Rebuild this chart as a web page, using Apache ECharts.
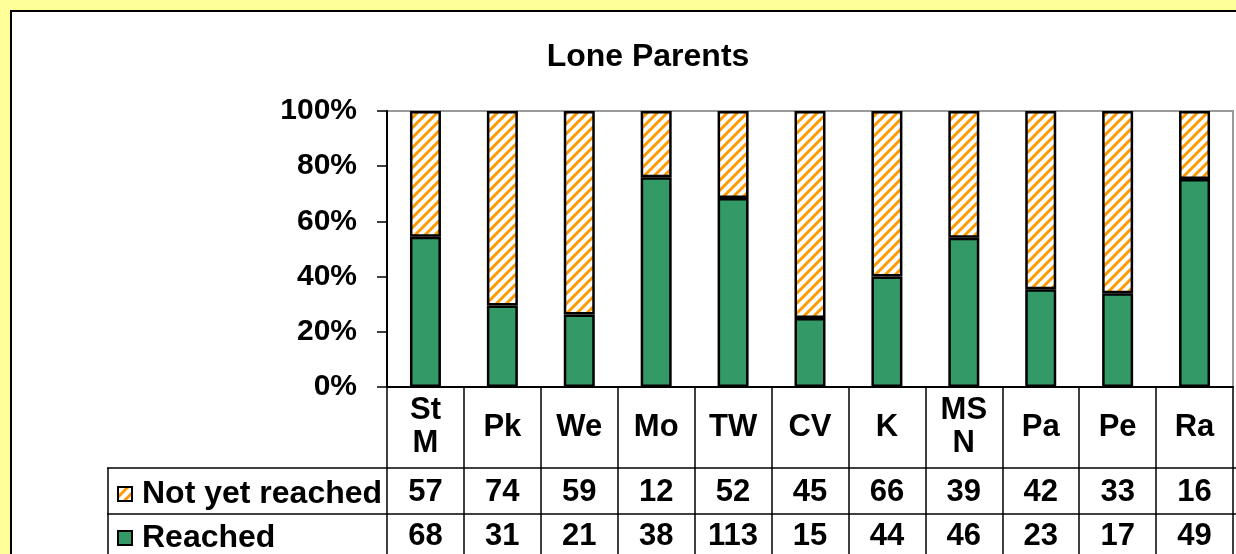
<!DOCTYPE html>
<html>
<head>
<meta charset="utf-8">
<script src="https://cdn.jsdelivr.net/npm/echarts@6/dist/echarts.min.js"></script>
<style>
  html, body { margin: 0; padding: 0; background: #FFFF99; }
  #chart { width: 1236px; height: 554px; }
</style>
</head>
<body>
<div id="chart"></div>
<script>
// data
const categories = ['St M', 'Pk', 'We', 'Mo', 'TW', 'CV', 'K', 'MSN', 'Pa', 'Pe', 'Ra']
const headerLabels = ['St\nM', 'Pk', 'We', 'Mo', 'TW', 'CV', 'K', 'MS\nN', 'Pa', 'Pe', 'Ra']
const notReached = [57, 74, 59, 12, 52, 45, 66, 39, 42, 33, 16]
const reached = [68, 31, 21, 38, 113, 15, 44, 46, 23, 17, 49]
const yTicks = [0, 20, 40, 60, 80, 100]

const FONT = "'Liberation Sans', Arial, sans-serif"
const GREEN = '#339966'
const ORANGE = '#FF9900'

// hatch pattern for "Not yet reached"
function makeHatch() {
  const s = 10
  const c = document.createElement('canvas')
  c.width = s
  c.height = s
  const ctx = c.getContext('2d')
  ctx.fillStyle = '#fff'
  ctx.fillRect(0, 0, s, s)
  ctx.strokeStyle = ORANGE
  ctx.lineWidth = 3
  ctx.beginPath()
  ctx.moveTo(-2, s + 2); ctx.lineTo(s + 2, -2)
  ctx.moveTo(-2, 2); ctx.lineTo(2, -2)
  ctx.moveTo(s - 2, s + 2); ctx.lineTo(s + 2, s - 2)
  ctx.stroke()
  return c
}
const hatch = { image: makeHatch(), repeat: 'repeat' }

const totals = reached.map((r, i) => r + notReached[i])
const reachedPct = reached.map((r, i) => r / totals[i] * 100)
const notReachedPct = notReached.map((n, i) => n / totals[i] * 100)

const chart = echarts.init(document.getElementById('chart'))

const tableFont = { fontFamily: FONT, fontWeight: 'bold', fontSize: 31, color: '#000' }
const axisFont = { fontFamily: FONT, fontWeight: 'bold', fontSize: 30, color: '#000' }

const hiddenAxis = (margin, values) => ({
  type: 'category',
  position: 'bottom',
  data: categories,
  axisLine: { show: false },
  axisTick: { show: false },
  splitLine: { show: false },
  axisLabel: Object.assign({
    margin: margin,
    verticalAlign: 'middle',
    interval: 0,
    formatter: (v, i) => String(values[i])
  }, tableFont)
})

const legendRow = (name, top) => ({
  orient: 'vertical',
  left: 112,
  top: top,
  icon: 'rect',
  itemWidth: 14,
  itemHeight: 14,
  data: [name],
  textStyle: Object.assign({ lineHeight: 30, padding: [0, 0, 0, 5] }, tableFont, { fontSize: 32 })
})

const option = {
  backgroundColor: '#FFFF99',
  animation: false,
  title: {
    text: 'Lone Parents',
    left: 643,
    top: 36,
    textAlign: 'center',
    textStyle: { fontFamily: FONT, fontWeight: 'bold', fontSize: 32, color: '#000' }
  },
  legend: [
    legendRow('Not yet reached', 473),
    legendRow('Reached', 517)
  ],
  grid: {
    left: 387,
    right: 3,
    top: 111,
    bottom: 167,
    show: true,
    backgroundColor: '#fff',
    borderColor: '#999',
    borderWidth: 2
  },
  xAxis: [
    {
      type: 'category',
      position: 'bottom',
      data: categories,
      axisLine: { lineStyle: { color: '#000', width: 2 } },
      axisTick: { show: true, length: 170, interval: 0, lineStyle: { color: '#000', width: 1.5 } },
      axisLabel: Object.assign({
        margin: 40,
        verticalAlign: 'middle',
        lineHeight: 33,
        interval: 0,
        formatter: (v, i) => headerLabels[i]
      }, tableFont)
    },
    hiddenAxis(105, notReached),
    hiddenAxis(149, reached)
  ],
  yAxis: {
    type: 'value',
    min: yTicks[0],
    max: yTicks[yTicks.length - 1],
    interval: 20,
    axisLine: { show: true, lineStyle: { color: '#000', width: 2 } },
    axisTick: { show: true, length: 10, lineStyle: { color: '#000', width: 1.5 } },
    splitLine: { show: false },
    axisLabel: Object.assign({ margin: 30, formatter: '{value}%' }, axisFont)
  },
  graphic: [
    {
      type: 'rect',
      z: -10,
      shape: { x: 11, y: 11, width: 1400, height: 700 },
      style: { fill: '#fff', stroke: '#000', lineWidth: 2 }
    },
    { type: 'line', z: 10, shape: { x1: 107, y1: 468, x2: 1236, y2: 468 }, style: { stroke: '#000', lineWidth: 1.5 } },
    { type: 'line', z: 10, shape: { x1: 107, y1: 514, x2: 1236, y2: 514 }, style: { stroke: '#000', lineWidth: 1.5 } },
    { type: 'line', z: 10, shape: { x1: 108, y1: 468, x2: 108, y2: 554 }, style: { stroke: '#000', lineWidth: 1.5 } }
  ],
  series: [
    {
      name: 'Reached',
      type: 'bar',
      stack: 'total',
      barWidth: 31,
      data: reachedPct,
      itemStyle: { color: GREEN, borderColor: '#000', borderWidth: 2.5 }
    },
    {
      name: 'Not yet reached',
      type: 'bar',
      stack: 'total',
      barWidth: 31,
      data: notReachedPct,
      itemStyle: { color: hatch, borderColor: '#000', borderWidth: 2.5 }
    }
  ]
}

chart.setOption(option)
</script>
</body>
</html>
